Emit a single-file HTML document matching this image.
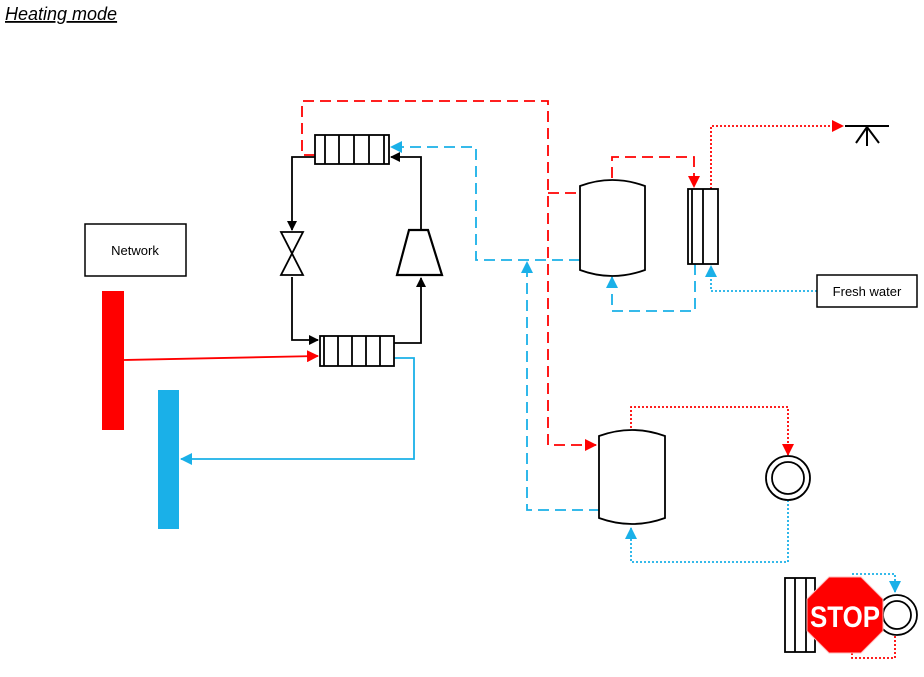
<!DOCTYPE html>
<html><head><style>body{margin:0;background:#fff}svg{display:block}</style></head><body>
<svg width="924" height="677" xmlns="http://www.w3.org/2000/svg" font-family="Liberation Sans, sans-serif">
<defs>
<marker id="ak" markerWidth="10" markerHeight="10" refX="9" refY="5" orient="auto" markerUnits="userSpaceOnUse"><path d="M0,0L10,5L0,10z" fill="#000"/></marker>
<marker id="ar" markerWidth="12" markerHeight="12" refX="11" refY="6" orient="auto" markerUnits="userSpaceOnUse"><path d="M0,0L12,6L0,12z" fill="#f00"/></marker>
<marker id="ab" markerWidth="12" markerHeight="12" refX="11" refY="6" orient="auto" markerUnits="userSpaceOnUse"><path d="M0,0L12,6L0,12z" fill="#1ab0e8"/></marker>
</defs>
<text x="5" y="20" font-size="18" font-style="italic" text-decoration="underline">Heating mode</text>
<g fill="none" stroke-width="1.8">
<path d="M315,157H292V230" stroke="#000" marker-end="url(#ak)"/>
<path d="M292,277V340H318" stroke="#000" marker-end="url(#ak)"/>
<path d="M394,343H421V278" stroke="#000" marker-end="url(#ak)"/>
<path d="M421,230V157H391" stroke="#000" marker-end="url(#ak)"/>
<path d="M315,155H302V101H548V445H596" stroke="#f00" stroke-dasharray="11,6" marker-end="url(#ar)"/>
<path d="M548,193H580" stroke="#f00" stroke-dasharray="11,6"/>
<path d="M612,178V157H694V187" stroke="#f00" stroke-dasharray="11,6" marker-end="url(#ar)"/>
<path d="M580,260H476V147H391" stroke="#1ab0e8" stroke-dasharray="11,6" marker-end="url(#ab)"/>
<path d="M600,510H527V262" stroke="#1ab0e8" stroke-dasharray="11,6" marker-end="url(#ab)"/>
<path d="M695,264V311H612V277" stroke="#1ab0e8" stroke-dasharray="11,6" marker-end="url(#ab)"/>
<path d="M711,189V126H843" stroke="#f00" stroke-dasharray="2,2" marker-end="url(#ar)"/>
<path d="M817,291H711V266" stroke="#1ab0e8" stroke-dasharray="2,2" marker-end="url(#ab)"/>
<path d="M631,428V407H788V455" stroke="#f00" stroke-dasharray="2,2" marker-end="url(#ar)"/>
<path d="M788,500V562H631V528" stroke="#1ab0e8" stroke-dasharray="2,2" marker-end="url(#ab)"/>
<path d="M852,574H895V592" stroke="#1ab0e8" stroke-dasharray="2,2" marker-end="url(#ab)"/>
<path d="M895,636V658H852V650" stroke="#f00" stroke-dasharray="2,2"/>
<path d="M124,360L318,356" stroke="#f00" marker-end="url(#ar)"/>
<path d="M394,358H414V459H181" stroke="#1ab0e8" marker-end="url(#ab)"/>
</g>
<g stroke="#000" stroke-width="1.8" fill="#fff">
<rect x="315" y="135" width="74" height="29"/>
<path d="M325,135V164M339,135V164M354,135V164M369,135V164M384,135V164" fill="none"/>
<rect x="320" y="336" width="74" height="30"/>
<path d="M324,336V366M338,336V366M352,336V366M366,336V366M380,336V366" fill="none"/>
<path d="M281,232H303L281,275H303Z"/>
<path d="M409,230H428L442,275H397Z" stroke-width="2.2"/>
<path d="M580,186Q612,174 645,186V270Q612,282 580,270Z"/>
<path d="M599,436Q632,424 665,436V518Q632,530 599,518Z"/>
<rect x="688" y="189" width="30" height="75"/>
<path d="M692,189V264M703,189V264" fill="none"/>
<circle cx="788" cy="478" r="22"/><circle cx="788" cy="478" r="16"/>
<path d="M845,126H889M856,143L867,127L879,143M867,127V146" fill="none" stroke-width="2"/>
<rect x="785" y="578" width="30" height="74"/>
<path d="M795,578V652M806,578V652" fill="none"/>
<circle cx="897" cy="615" r="20"/><circle cx="897" cy="615" r="14"/>
</g>
<polygon points="829,577 861,577 883,599 883,631 861,653 829,653 807,631 807,599" fill="#f00" stroke="#fbb" stroke-width="1"/>
<text x="845" y="627" font-size="30" font-weight="bold" fill="#fff" text-anchor="middle" textLength="70" lengthAdjust="spacingAndGlyphs">STOP</text>
<rect x="85" y="224" width="101" height="52" fill="#fff" stroke="#000" stroke-width="1.5"/>
<text x="135" y="255" font-size="13" text-anchor="middle">Network</text>
<rect x="817" y="275" width="100" height="32" fill="#fff" stroke="#000" stroke-width="1.5"/>
<text x="867" y="296" font-size="13" text-anchor="middle">Fresh water</text>
<rect x="102" y="291" width="22" height="139" fill="#f00"/>
<rect x="158" y="390" width="21" height="139" fill="#1ab0e8"/>
</svg>
</body></html>
